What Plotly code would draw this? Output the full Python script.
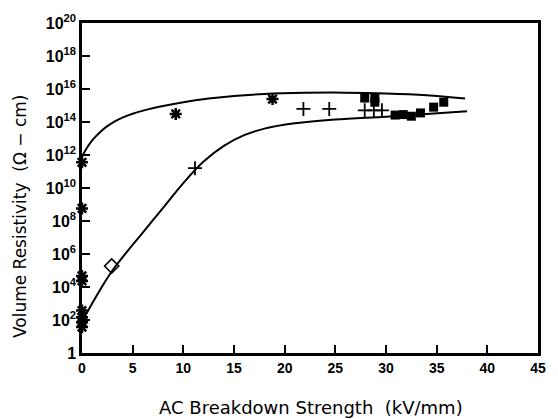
import plotly.graph_objects as go

# Data (x: kV/mm, y: log10 of resistivity in ohm-cm)
upper_x = [0, 0.4, 0.8, 1.2, 1.8, 2.5, 3.2, 4.0, 5.0, 6.4, 8.0, 10.0, 12.5, 15.0, 18.0, 22.0, 26.0, 30.0, 34.0, 37.8]
upper_log = [11.9, 12.35, 12.72, 13.02, 13.4, 13.75, 14.03, 14.27, 14.5, 14.75, 14.97, 15.2, 15.42, 15.58, 15.7, 15.77, 15.78, 15.73, 15.62, 15.42]

lower_x = [0, 1, 2, 3, 4, 6, 8, 10, 12, 14, 16, 18, 21, 25, 30, 34, 38]
lower_log = [1.9, 3.0, 4.05, 5.0, 5.8, 7.3, 8.8, 10.3, 11.6, 12.55, 13.2, 13.6, 13.92, 14.15, 14.32, 14.48, 14.65]

star_x = [0, 0, 0, 0, 0, 0, 0, 0, 9.25, 18.8]
star_log = [11.56, 8.76, 4.67, 4.37, 2.57, 2.17, 1.87, 1.57, 14.49, 15.39]

plus_x = [11.15, 21.85, 24.4, 27.9, 28.8, 29.6]
plus_log = [11.2, 14.79, 14.79, 14.71, 14.71, 14.71]

square_x = [27.9, 28.9, 28.9, 30.9, 31.7, 32.5, 33.4, 34.7, 35.7]
square_log = [15.45, 15.45, 15.2, 14.42, 14.45, 14.35, 14.55, 14.9, 15.2]

diamond_x = [2.93]
diamond_log = [5.27]

x_ticks = [0, 5, 10, 15, 20, 25, 30, 35, 40, 45]
y_exponents = [0, 2, 4, 6, 8, 10, 12, 14, 16, 18, 20]
y_ticktext = ["1"] + ["10<sup>%d</sup>" % e for e in y_exponents[1:]]

x_title = "AC Breakdown Strength  (kV/mm)"
y_title = "Volume Resistivity  (Ω − cm)"


def p(v):
    return [10.0 ** a for a in v]


fig = go.Figure()
fig.add_trace(go.Scatter(x=upper_x, y=p(upper_log), mode="lines",
                         line=dict(color="black", width=2, shape="spline", smoothing=1.0),
                         cliponaxis=False, hoverinfo="skip"))
fig.add_trace(go.Scatter(x=lower_x, y=p(lower_log), mode="lines",
                         line=dict(color="black", width=2, shape="spline", smoothing=1.0),
                         cliponaxis=False, hoverinfo="skip"))
fig.add_trace(go.Scatter(x=star_x, y=p(star_log), mode="markers",
                         marker=dict(symbol="asterisk-open", size=10, color="black",
                                     line=dict(color="black", width=2.5)),
                         cliponaxis=False))
fig.add_trace(go.Scatter(x=plus_x, y=p(plus_log), mode="markers",
                         marker=dict(symbol="cross-thin-open", size=10, color="black",
                                     line=dict(color="black", width=1.8)),
                         cliponaxis=False))
fig.add_trace(go.Scatter(x=square_x, y=p(square_log), mode="markers",
                         marker=dict(symbol="square", size=9, color="black",
                                     line=dict(color="black", width=0)),
                         cliponaxis=False))
fig.add_trace(go.Scatter(x=diamond_x, y=p(diamond_log), mode="markers",
                         marker=dict(symbol="diamond-open", size=11, color="black",
                                     line=dict(color="black", width=1.6)),
                         cliponaxis=False))

tick_font = "Liberation Sans, Arial, sans-serif"
title_font = "DejaVu Sans, Verdana, sans-serif"

fig.update_layout(
    width=558, height=419,
    margin=dict(l=82, r=20, t=19, b=66),
    paper_bgcolor="white", plot_bgcolor="white",
    showlegend=False,
    font=dict(family=tick_font, color="black"),
    xaxis=dict(range=[0, 45], tickvals=x_ticks, ticktext=[str(t) for t in x_ticks],
               ticks="inside", ticklen=8, tickwidth=2, tickcolor="black",
               showline=True, linewidth=2.5, linecolor="black", mirror=True,
               showgrid=False, zeroline=False,
               tickfont=dict(size=14, family=tick_font, weight="bold")),
    yaxis=dict(type="log", range=[0, 20], tickvals=[10.0 ** e for e in y_exponents],
               ticktext=y_ticktext,
               ticks="inside", ticklen=8, tickwidth=2, tickcolor="black",
               showline=True, linewidth=2.5, linecolor="black", mirror=True,
               showgrid=False, zeroline=False,
               tickfont=dict(size=16, family=tick_font, weight="bold")),
    annotations=[
        dict(text=x_title, xref="paper", yref="paper", x=0.502, y=-0.165,
             xanchor="center", yanchor="middle", showarrow=False,
             font=dict(size=18, family=title_font, color="black")),
        dict(text=y_title, xref="paper", yref="paper", x=-0.136, y=0.415,
             xanchor="center", yanchor="middle", showarrow=False, textangle=-90,
             font=dict(size=17, family=title_font, color="black")),
    ],
)

fig.write_html("out.html")
